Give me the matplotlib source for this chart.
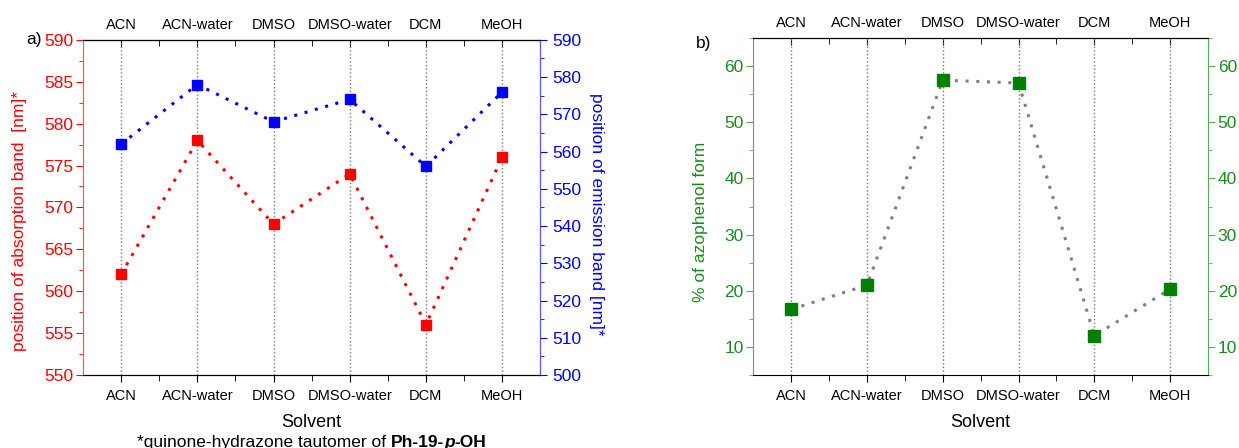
import matplotlib
matplotlib.use('Agg')
import matplotlib.pyplot as plt
from matplotlib.ticker import MultipleLocator, FixedLocator
from matplotlib.offsetbox import TextArea, HPacker, AnnotationBbox
import numpy as np

plt.rcParams['font.family'] = ['Liberation Sans', 'DejaVu Sans']

# data
solvents = ['ACN', 'ACN-water', 'DMSO', 'DMSO-water', 'DCM', 'MeOH']
absorption_nm = [562, 578, 568, 574, 556, 576]
emission_nm = [562, 578, 568, 574, 556, 576]
azophenol_pct = [16.7, 21.0, 57.5, 57.0, 12.0, 20.3]

RED = '#ff0000'
BLUE = '#0000ff'
GREEN = '#007f00'
GREEN_TXT = '#1a8c1a'
GREEN_SPINE = '#55b055'
DOTS = (0, (1, 2.5))

x = np.arange(len(solvents))

fig = plt.figure(figsize=(12.39, 4.48), dpi=100)


def style_xaxis(ax):
    ax.set_xlim(-0.5, len(solvents) - 0.5)
    ax.set_xticks(x)
    ax.set_xticklabels(solvents, fontsize=10.5)
    ax.xaxis.set_minor_locator(FixedLocator(x[:-1] + 0.5))
    ax.tick_params(axis='x', which='both', direction='out', pad=5)
    ax.tick_params(axis='x', which='major', length=5)
    ax.tick_params(axis='x', which='minor', length=4)
    ax.grid(axis='x', linestyle=':', color='#777777', linewidth=1)
    ax.set_xlabel('Solvent', fontsize=13, labelpad=8)
    # top axis repeats the categories, ticks pointing inward
    top = ax.secondary_xaxis('top')
    top.set_xticks(x)
    top.set_xticklabels(solvents, fontsize=10.5)
    top.xaxis.set_minor_locator(FixedLocator(x[:-1] + 0.5))
    top.tick_params(axis='x', which='both', direction='in', pad=6)
    top.tick_params(axis='x', which='major', length=5)
    top.tick_params(axis='x', which='minor', length=4)


# ---- panel a ----
ax1 = fig.add_axes([0.067, 0.163, 0.369, 0.748])
ax1.plot(x, absorption_nm, linestyle=DOTS, color=RED, linewidth=2.2,
         marker='s', markersize=7, markerfacecolor=RED, markeredgecolor=RED)
ax1.set_ylim(550, 590)
ax1.yaxis.set_major_locator(MultipleLocator(5))
ax1.yaxis.set_minor_locator(MultipleLocator(2.5))
ax1.tick_params(axis='y', which='both', colors=RED, labelsize=12.5, direction='out', pad=2)
ax1.tick_params(axis='y', which='major', length=5)
ax1.tick_params(axis='y', which='minor', length=3)
ax1.set_ylabel('position of absorption band  [nm]*', color=RED, fontsize=12.5)
ax1.yaxis.set_label_coords(-0.123, 0.46)
ax1.spines['left'].set_color('#ff5555')
style_xaxis(ax1)

ax2 = ax1.twinx()
ax2.plot(x, emission_nm, linestyle=DOTS, color=BLUE, linewidth=2.2,
         marker='s', markersize=7, markerfacecolor=BLUE, markeredgecolor=BLUE)
ax2.set_ylim(500, 590)
ax2.yaxis.set_major_locator(MultipleLocator(10))
ax2.yaxis.set_minor_locator(MultipleLocator(5))
ax2.tick_params(axis='y', which='both', colors=BLUE, labelsize=12.5, direction='out', pad=4)
ax2.tick_params(axis='y', which='major', length=5)
ax2.tick_params(axis='y', which='minor', length=3)
ax2.set_ylabel('position of emission band [nm]*', color=BLUE, fontsize=12.5, rotation=270)
ax2.yaxis.set_label_coords(1.14, 0.478)
ax2.spines['right'].set_color('#5555ff')
ax2.spines['left'].set_color('#ff5555')

fig.text(0.021, 0.911, 'a)', fontsize=12.5, va='center', ha='left')

# footnote with bold compound name
parts = [
    TextArea('*quinone-hydrazone tautomer of ', textprops=dict(fontsize=12.5)),
    TextArea('Ph-19-', textprops=dict(fontsize=12.5, fontweight='bold')),
    TextArea('p', textprops=dict(fontsize=12.5, fontweight='bold', fontstyle='italic')),
    TextArea('-OH', textprops=dict(fontsize=12.5, fontweight='bold')),
]
pack = HPacker(children=parts, pad=0, sep=0, align='baseline')
ab = AnnotationBbox(pack, (0.2515, 0.012), xycoords='figure fraction',
                    frameon=False, box_alignment=(0.5, 0.5))
fig.add_artist(ab)

# ---- panel b ----
ax3 = fig.add_axes([0.608, 0.163, 0.367, 0.752])
ax3.plot(x, azophenol_pct, linestyle=DOTS, color='#808080', linewidth=2.2, zorder=2)
ax3.plot(x, azophenol_pct, linestyle='none', marker='s', markersize=8.5,
         markerfacecolor=GREEN, markeredgecolor=GREEN, zorder=3)
ax3.set_ylim(5, 65)
ax3.yaxis.set_major_locator(MultipleLocator(10))
ax3.yaxis.set_minor_locator(MultipleLocator(5))
ax3.tick_params(axis='y', which='both', colors=GREEN_SPINE, labelcolor=GREEN_TXT,
                labelsize=12.5, direction='out', left=True, right=True,
                labelleft=True, labelright=True, pad=2)
ax3.tick_params(axis='y', which='major', length=5)
ax3.tick_params(axis='y', which='minor', length=3)
ax3.set_ylabel('% of azophenol form', color=GREEN_TXT, fontsize=12.5)
ax3.yaxis.set_label_coords(-0.1, 0.455)
ax3.spines['left'].set_color(GREEN_SPINE)
ax3.spines['right'].set_color(GREEN_SPINE)
style_xaxis(ax3)

fig.text(0.562, 0.903, 'b)', fontsize=12.5, va='center', ha='left')

fig.savefig('out.png', dpi=100)
